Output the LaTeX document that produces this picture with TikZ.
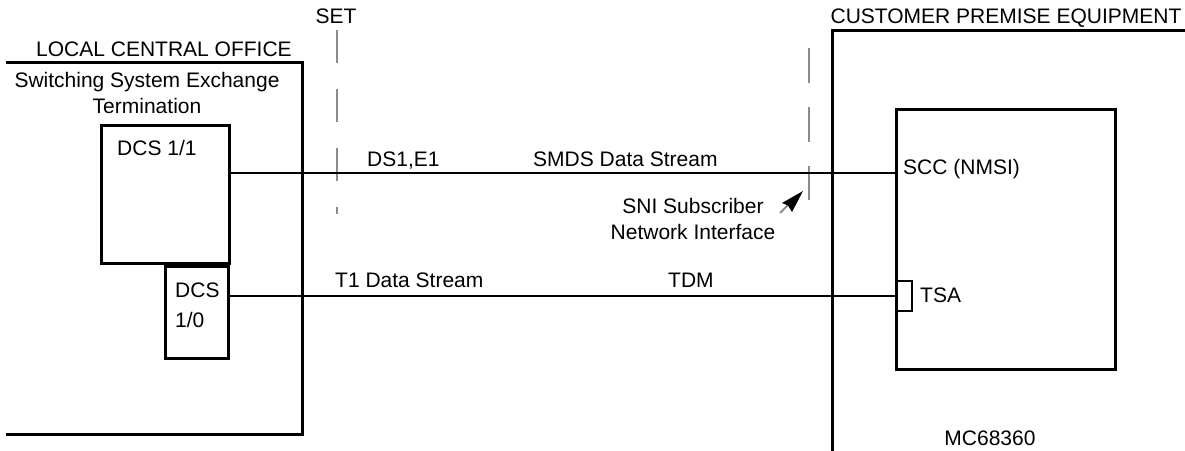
\documentclass[tikz,border=0pt]{standalone}
\usepackage{fontspec}
\setmainfont{Liberation Sans}
\tikzset{
  lbl/.style={inner sep=0pt, anchor=base west, font=\fontsize{21}{25.5}\selectfont},
  lblc/.style={inner sep=0pt, anchor=base, font=\fontsize{21}{25.5}\selectfont},
  frame/.style={line width=3pt, line cap=rect},
  boxn/.style={draw, line width=2.5pt, inner sep=0pt, anchor=north west},
  conn/.style={line width=2pt},
  setline/.style={draw=gray!90, line width=2.5pt}
}
\begin{document}
\begin{tikzpicture}[x=1pt,y=-1pt]
\useasboundingbox (0,0) rectangle (1185,450);
% left office frame
\draw[frame] (7,62) -- (302,62) -- (302,434) -- (7,434);
\node[lblc] (lco) at (164,56) {LOCAL CENTRAL OFFICE};
\node[lblc, align=center] (sse) at (147,113) {Switching System Exchange\\Termination};
% CPE frame
\draw[frame] (1185,30) -- (832,30) -- (832,452);
\node[lblc] (cpe) at (1006,23) {CUSTOMER PREMISE EQUIPMENT};
% SET
\node[lblc] (set) at (336,23) {SET};
\draw[setline, dash pattern=on 33pt off 26pt] (337,30) -- (337,214);
\draw[setline, dash pattern=on 35pt off 24pt] (809,48) -- (809,200);
% DCS 1/1
\node[boxn, minimum width=128pt, minimum height=138pt] (dcs11) at (100,124) {};
\node[lbl] (dcs11t) at (117,155) {DCS 1/1};
% DCS 1/0
\node[boxn, minimum width=63pt, minimum height=92pt] (dcs10) at (164,265) {};
\node[lbl, align=left] (dcs10t) at (175,327) {DCS\\[4.5pt]1/0};
% SCC box
\node[boxn, minimum width=219pt, minimum height=260pt] (scc) at (895,108) {};
\node[lbl] (scct) at (903,174) {SCC (NMSI)};
% TSA
\node[boxn, line width=2pt, minimum width=16pt, minimum height=30pt] (tsa) at (895,280) {};
\node[lbl] (tsat) at (920,302) {TSA};
\node[lblc] (mc) at (990,445) {MC68360};
% connectors
\coordinate (c1) at (0,173);
\draw[conn] (dcs11.east |- c1) -- (scc.west |- c1);
\draw[conn] (dcs10.east |- tsa.west) -- (tsa.west);
% labels
\node[lbl] (ds1) at (367,166) {DS1,E1};
\node[lbl] (smds) at (533,166) {SMDS Data Stream};
\node[lbl] (t1) at (335,287) {T1 Data Stream};
\node[lbl] (tdm) at (668,287) {TDM};
\node[lblc, align=center] (sni) at (693,239) {SNI Subscriber\\Network Interface};
% arrow
\coordinate (atail) at (780,213);
\coordinate (amid) at (788,205);
\coordinate (atip) at (803,191);
\draw[draw=gray!90, line width=2pt] (atail) -- (amid);
\fill[black] (atip) -- (782,203) -- (788,205.5) -- (792,212) -- cycle;
\end{tikzpicture}
\end{document}
